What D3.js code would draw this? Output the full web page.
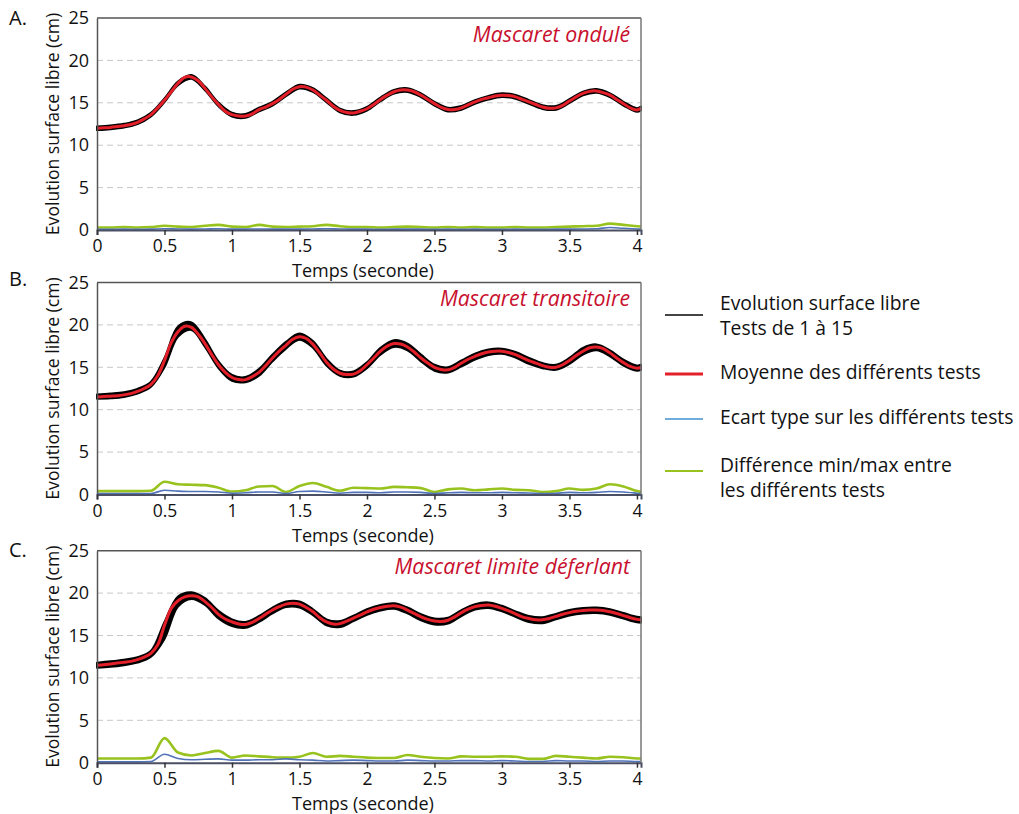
<!DOCTYPE html>
<html><head><meta charset="utf-8">
<script src="https://cdn.jsdelivr.net/npm/d3@7"></script>
<style>
html,body{margin:0;padding:0;background:#fff;}
svg{display:block;font-family:"Open Sans","Noto Sans",sans-serif;}
</style></head>
<body>
<svg id="chart" width="1019" height="814"></svg>
<script>
// ---------- data ----------
const panelLetters = ["A.", "B.", "C."];
const panelTitles = ["Mascaret ondulé", "Mascaret transitoire", "Mascaret limite déferlant"];
const xTicks = [0, 0.5, 1, 1.5, 2, 2.5, 3, 3.5, 4];
const yTicks = [0, 5, 10, 15, 20, 25];
const xTitle = "Temps (seconde)";
const yTitle = "Evolution surface libre (cm)";
const legendLabels = [
  ["Evolution surface libre", "Tests de 1 à 15"],
  ["Moyenne des différents tests"],
  ["Ecart type sur les différents tests"],
  ["Différence min/max entre", "les différents tests"]
];

// time grids (s)
const timesFine = [0,0.05,0.1,0.15,0.2,0.25,0.3,0.35,0.4,0.45,0.5,0.55,0.6,0.65,0.7,0.75,0.8,0.85,0.9,0.95,
  1,1.05,1.1,1.15,1.2,1.25,1.3,1.35,1.4,1.45,1.5,1.55,1.6,1.65,1.7,1.75,1.8,1.85,1.9,1.95,
  2,2.05,2.1,2.15,2.2,2.25,2.3,2.35,2.4,2.45,2.5,2.55,2.6,2.65,2.7,2.75,2.8,2.85,2.9,2.95,
  3,3.05,3.1,3.15,3.2,3.25,3.3,3.35,3.4,3.45,3.5,3.55,3.6,3.65,3.7,3.75,3.8,3.85,3.9,3.95,4,4.03];
const timesCoarse = [0,0.1,0.2,0.3,0.4,0.5,0.6,0.7,0.8,0.9,1,1.1,1.2,1.3,1.4,1.5,1.6,1.7,1.8,1.9,
  2,2.1,2.2,2.3,2.4,2.5,2.6,2.7,2.8,2.9,3,3.1,3.2,3.3,3.4,3.5,3.6,3.7,3.8,3.9,4,4.03];

// mean of the tests (cm), on timesFine
const meanA = [12.0,12.05,12.1,12.2,12.3,12.45,12.7,13.1,13.6,14.4,15.3,16.3,17.3,18.0,18.05,17.6,16.7,15.7,14.8,14.0,
  13.6,13.45,13.45,13.7,14.2,14.5,14.9,15.4,16.0,16.6,16.9,16.85,16.5,15.9,15.3,14.6,14.1,13.85,13.8,14.0,
  14.3,14.8,15.4,15.9,16.3,16.5,16.5,16.3,15.9,15.4,14.9,14.45,14.2,14.2,14.4,14.75,15.1,15.4,15.6,15.8,
  15.9,15.85,15.7,15.4,15.1,14.8,14.5,14.35,14.4,14.7,15.2,15.7,16.1,16.35,16.4,16.2,15.9,15.4,14.9,14.4,14.15,14.35];
const meanB = [11.5,11.55,11.6,11.65,11.75,11.9,12.15,12.5,13.0,14.0,15.8,17.9,19.2,19.85,19.7,18.9,17.8,16.5,15.3,14.4,
  13.8,13.55,13.55,13.9,14.4,15.2,16.1,16.9,17.6,18.3,18.6,18.4,17.7,16.7,15.6,14.8,14.3,14.15,14.2,14.6,
  15.3,16.1,16.9,17.5,17.8,17.75,17.4,16.8,16.1,15.5,15.0,14.75,14.7,15.0,15.5,15.95,16.3,16.6,16.8,16.9,
  16.9,16.75,16.5,16.15,15.8,15.5,15.2,15.0,15.0,15.3,15.8,16.4,16.9,17.3,17.4,17.2,16.7,16.1,15.55,15.1,14.9,15.0];
const meanC = [11.5,11.55,11.65,11.75,11.85,11.95,12.15,12.45,12.9,13.9,16.2,18.2,19.1,19.55,19.7,19.55,19.0,18.3,17.5,16.95,
  16.6,16.35,16.3,16.55,17.0,17.5,18.0,18.4,18.7,18.8,18.7,18.3,17.8,17.1,16.6,16.35,16.4,16.7,17.05,17.4,
  17.8,18.1,18.3,18.45,18.5,18.35,18.0,17.6,17.2,16.9,16.7,16.65,16.8,17.2,17.7,18.1,18.4,18.55,18.6,18.45,
  18.2,17.9,17.55,17.2,17.0,16.85,16.85,17.0,17.25,17.5,17.7,17.85,17.95,18.0,18.0,17.95,17.8,17.6,17.35,17.1,16.9,16.85];

// envelope of tests 1 to 15 (cm), on timesCoarse
const testsHighA = [12.22,12.32,12.52,12.92,13.82,15.52,17.52,18.27,16.92,15.02,13.82,13.67,14.42,15.12,16.22,17.12,16.72,15.52,14.32,14.02,
  14.52,15.62,16.52,16.72,16.12,15.12,14.42,14.62,15.32,15.82,16.12,15.92,15.32,14.72,14.62,15.42,16.32,16.62,16.12,15.12,14.37,14.57];
const testsLowA = [11.78,11.88,12.08,12.48,13.38,15.08,17.08,17.83,16.48,14.58,13.38,13.23,13.98,14.68,15.78,16.68,16.28,15.08,13.88,13.58,
  14.08,15.18,16.08,16.28,15.68,14.68,13.98,14.18,14.88,15.38,15.68,15.48,14.88,14.28,14.18,14.98,15.88,16.18,15.68,14.68,13.93,14.13];
const testsHighB = [11.8,11.9,12.05,12.45,13.3,16.1,19.8,20.3,18.3,15.7,14.1,13.85,14.8,16.5,18.0,19.0,18.1,16.0,14.6,14.5,
  15.6,17.3,18.2,17.8,16.5,15.3,15.0,15.8,16.6,17.1,17.2,16.8,16.1,15.5,15.3,16.1,17.3,17.7,17.0,15.9,15.2,15.3];
const testsLowB = [11.3,11.35,11.5,11.9,12.7,15.0,18.6,19.4,17.4,14.9,13.4,13.25,14.0,15.7,17.2,18.25,17.3,15.2,14.0,13.9,
  14.9,16.5,17.4,17.0,15.7,14.6,14.4,15.1,15.9,16.45,16.6,16.15,15.4,14.9,14.7,15.4,16.5,17.0,16.3,15.2,14.6,14.7];
const testsHighC = [11.8,11.95,12.15,12.45,13.2,16.6,19.6,20.1,19.4,17.9,16.9,16.6,17.3,18.3,19.0,19.0,18.1,16.9,16.7,17.35,
  18.1,18.6,18.8,18.3,17.5,17.0,17.1,18.0,18.7,18.9,18.5,17.85,17.3,17.15,17.55,18.0,18.25,18.3,18.1,17.65,17.2,17.15];
const testsLowC = [11.2,11.3,11.5,11.8,12.5,14.6,18.4,19.3,18.6,17.0,16.1,15.9,16.6,17.6,18.35,18.3,17.4,16.2,16.0,16.7,
  17.45,17.95,18.15,17.6,16.8,16.3,16.4,17.3,18.05,18.25,17.85,17.2,16.6,16.45,16.9,17.35,17.6,17.65,17.45,17.0,16.55,16.5];

// min/max difference (cm), on timesCoarse
const diffA = [0.3,0.3,0.35,0.3,0.35,0.5,0.4,0.35,0.5,0.6,0.4,0.35,0.6,0.4,0.35,0.4,0.45,0.6,0.45,0.35,
  0.35,0.3,0.35,0.4,0.35,0.3,0.35,0.3,0.35,0.3,0.3,0.35,0.3,0.3,0.35,0.4,0.45,0.5,0.75,0.6,0.45,0.4];
const diffB = [0.4,0.4,0.4,0.4,0.45,1.5,1.2,1.15,1.1,0.8,0.35,0.5,0.95,1.0,0.3,1.0,1.35,0.9,0.45,0.8,
  0.75,0.7,0.9,0.85,0.75,0.3,0.6,0.7,0.5,0.6,0.7,0.55,0.5,0.3,0.4,0.7,0.55,0.7,1.2,0.95,0.4,0.3];
const diffC = [0.5,0.5,0.5,0.5,0.6,2.9,1.2,0.85,1.15,1.4,0.6,0.85,0.75,0.65,0.6,0.7,1.15,0.7,0.8,0.7,
  0.6,0.55,0.55,0.9,0.7,0.55,0.5,0.75,0.7,0.7,0.75,0.7,0.45,0.45,0.8,0.7,0.6,0.5,0.7,0.65,0.5,0.5];

// standard deviation (cm), on timesCoarse
const stdA = [0.08,0.08,0.1,0.08,0.1,0.15,0.12,0.1,0.12,0.15,0.1,0.1,0.12,0.1,0.1,0.1,0.12,0.15,0.12,0.1,
  0.1,0.08,0.1,0.1,0.1,0.08,0.1,0.08,0.1,0.08,0.08,0.1,0.08,0.08,0.1,0.1,0.12,0.15,0.3,0.2,0.12,0.1];
const stdB = [0.1,0.1,0.1,0.1,0.12,0.5,0.4,0.35,0.35,0.3,0.15,0.2,0.3,0.3,0.12,0.35,0.4,0.3,0.15,0.25,
  0.25,0.2,0.3,0.3,0.25,0.12,0.2,0.25,0.2,0.2,0.25,0.2,0.18,0.1,0.15,0.25,0.2,0.25,0.35,0.3,0.15,0.1];
const stdC = [0.1,0.1,0.1,0.1,0.15,1.0,0.5,0.35,0.4,0.45,0.3,0.3,0.35,0.35,0.45,0.35,0.3,0.2,0.25,0.3,
  0.25,0.2,0.2,0.3,0.25,0.2,0.2,0.25,0.25,0.2,0.25,0.2,0.15,0.15,0.25,0.2,0.2,0.15,0.2,0.2,0.15,0.15];

const panelsData = [
  {mean: meanA, hi: testsHighA, lo: testsLowA, diff: diffA, std: stdA},
  {mean: meanB, hi: testsHighB, lo: testsLowB, diff: diffB, std: stdB},
  {mean: meanC, hi: testsHighC, lo: testsLowC, diff: diffC, std: stdC}
];

// ---------- style / layout ----------
const COL = {tests:"#000000", mean:"#e3202a", std:"#4f72b8", diff:"#98c21e", title:"#c8102e",
             grid:"#c8c8c8", axis:"#555555", text:"#111111", legTests:"#444444", legStd:"#3f8fd2"};
const plotLeft = 97, plotRight = 641, plotH = 212;
const panelTops = [18, 282.5, 550.7];
const letterDy = [7, 3.5, 6.3];
const FS = {tick: 17.5, axisTitle: 18, yTitle: 17.6, title: 21.3, letter: 20, legend: 19.3};

const svg = d3.select("#chart");
const x = d3.scaleLinear().domain([0, 4.03]).range([plotLeft, plotRight]);

panelsData.forEach((p, i) => {
  const top = panelTops[i], bottom = top + plotH;
  const y = d3.scaleLinear().domain([0, 25]).range([bottom, top]);
  const g = svg.append("g");

  // grid
  g.append("g").selectAll("line").data(yTicks.filter(v => v > 0 && v < 25)).join("line")
    .attr("x1", plotLeft).attr("x2", plotRight)
    .attr("y1", d => y(d)).attr("y2", d => y(d))
    .attr("stroke", COL.grid).attr("stroke-width", 1).attr("stroke-dasharray", "6,4");

  const ptsC = timesCoarse.map((t, k) => ({t, k}));
  const ptsF = timesFine.map((t, k) => ({t, k}));

  // min/max difference
  g.append("path").datum(ptsC)
    .attr("d", d3.line().x(d => x(d.t)).y(d => y(p.diff[d.k])).curve(d3.curveMonotoneX))
    .attr("fill", "none").attr("stroke", COL.diff).attr("stroke-width", 2.6);
  // std
  g.append("path").datum(ptsC)
    .attr("d", d3.line().x(d => x(d.t)).y(d => y(p.std[d.k])).curve(d3.curveMonotoneX))
    .attr("fill", "none").attr("stroke", COL.std).attr("stroke-width", 1.6);

  // tests band
  g.append("path").datum(ptsC)
    .attr("d", d3.area().x(d => x(d.t)).y0(d => y(p.lo[d.k])).y1(d => y(p.hi[d.k])).curve(d3.curveCatmullRom))
    .attr("fill", COL.tests).attr("stroke", COL.tests).attr("stroke-width", 2).attr("stroke-linejoin", "round");

  // mean
  g.append("path").datum(ptsF)
    .attr("d", d3.line().x(d => x(d.t)).y(d => y(p.mean[d.k])).curve(d3.curveCatmullRom))
    .attr("fill", "none").attr("stroke", COL.mean).attr("stroke-width", 3);

  // axes
  const ya = g.append("g").attr("transform", `translate(${plotLeft},0)`)
    .call(d3.axisLeft(y).tickValues(yTicks).tickSize(0).tickPadding(8).tickFormat(d => String(d)));
  ya.select(".domain").attr("stroke", COL.axis).attr("stroke-width", 1.5);
  ya.selectAll("text").attr("font-size", 18).attr("fill", COL.text).attr("font-family", "Open Sans");

  const xa = g.append("g").attr("transform", `translate(0,${bottom})`)
    .call(d3.axisBottom(x).tickValues(xTicks).tickSize(5).tickPadding(5).tickFormat(d => String(d)));
  xa.select(".domain").attr("stroke", "#4a4f63").attr("stroke-width", 2);
  xa.selectAll(".tick line").attr("stroke", "#333").attr("stroke-width", 1.5);
  xa.selectAll("text").attr("font-size", FS.tick).attr("fill", COL.text).attr("font-family", "Open Sans");

  // frame top / right
  g.append("line").attr("x1", plotLeft).attr("x2", plotRight).attr("y1", top).attr("y2", top)
    .attr("stroke", COL.axis).attr("stroke-width", 1.5);
  g.append("line").attr("x1", plotRight).attr("x2", plotRight).attr("y1", top).attr("y2", bottom)
    .attr("stroke", "#777").attr("stroke-width", 1.5);

  // texts
  g.append("text").attr("x", 9).attr("y", top + letterDy[i]).text(panelLetters[i])
    .attr("font-size", FS.letter).attr("fill", COL.text);
  g.append("text").attr("x", 630).attr("y", top + 23.5).attr("text-anchor", "end")
    .attr("font-size", FS.title).attr("font-style", "italic").attr("fill", COL.title).text(panelTitles[i]);
  g.append("text").attr("x", 363).attr("y", bottom + 47.2).attr("text-anchor", "middle")
    .attr("font-size", FS.axisTitle).attr("fill", COL.text).text(xTitle);
  g.append("text").attr("transform", `translate(59,${(top + bottom) / 2}) rotate(-90)`)
    .attr("text-anchor", "middle").attr("font-size", FS.yTitle).attr("fill", COL.text).text(yTitle);
});

// legend
const legY = [315, 374, 419, 471];
const legCol = [COL.legTests, COL.mean, COL.legStd, COL.diff];
const legW = [2, 3, 1.5, 2.2];
const legBase = [[310, 335], [379], [423.5], [472, 497]];
const lg = svg.append("g");
legendLabels.forEach((lines, i) => {
  lg.append("line").attr("x1", 665).attr("x2", 703).attr("y1", legY[i]).attr("y2", legY[i])
    .attr("stroke", legCol[i]).attr("stroke-width", legW[i]);
  lines.forEach((s, j) => {
    lg.append("text").attr("x", 720).attr("y", legBase[i][j]).attr("font-size", FS.legend)
      .attr("fill", COL.text).text(s);
  });
});
</script>
</body></html>
